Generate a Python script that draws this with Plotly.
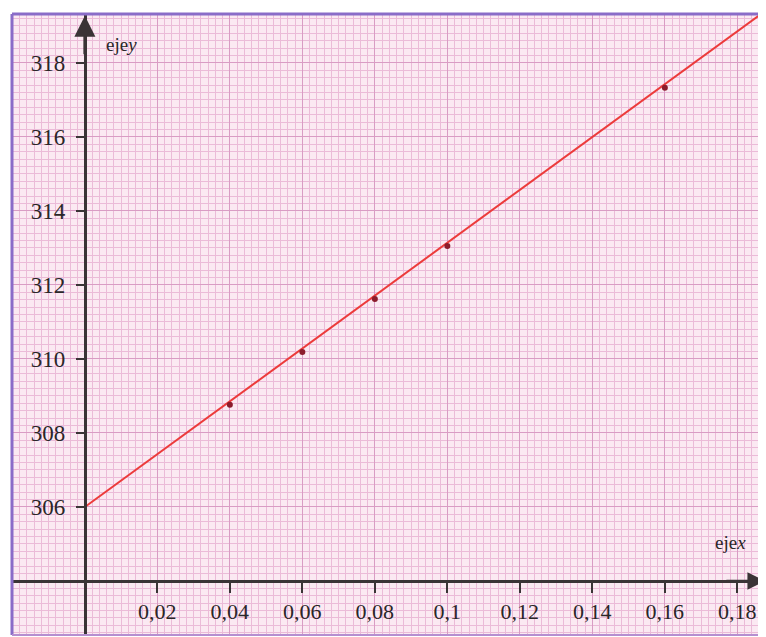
import plotly.graph_objects as go

# data
x_vals = [0.04, 0.06, 0.08, 0.1, 0.16]
y_vals = [308.76, 310.19, 311.62, 313.05, 317.33]
fit_intercept = 306.0
fit_slope = 71.4
x_ticks = [0.02, 0.04, 0.06, 0.08, 0.1, 0.12, 0.14, 0.16, 0.18]
x_tick_labels = ["0,02", "0,04", "0,06", "0,08", "0,1", "0,12", "0,14", "0,16", "0,18"]
y_ticks = [306, 308, 310, 312, 314, 316, 318]
y_tick_labels = ["306", "308", "310", "312", "314", "316", "318"]

x_range = [-0.0201, 0.1879]
y_range = [302.54, 319.32]
x_axis_at = 304.0
y_axis_at = 0.0

fit_x = [0.0, x_range[1]]
fit_y = [fit_intercept + fit_slope * v for v in fit_x]

axis_col = "#3a3436"
text_col = "#2a2628"
font_fam = "Liberation Serif"

fig = go.Figure()
fig.add_trace(go.Scatter(x=fit_x, y=fit_y, mode="lines",
                         line=dict(color="#ec3b3b", width=2), hoverinfo="skip"))
fig.add_trace(go.Scatter(x=x_vals, y=y_vals, mode="markers",
                         marker=dict(color="#8c1c2c", size=6)))

xpos = (y_axis_at - x_range[0]) / (x_range[1] - x_range[0])
ypos = (x_axis_at - y_range[0]) / (y_range[1] - y_range[0])

# the page body has an 8px margin, so the figure is 8px smaller
fig.update_layout(
    width=758, height=629,
    margin=dict(l=4, r=0, t=6, b=2, autoexpand=False),
    paper_bgcolor="white",
    plot_bgcolor="#fbe9f2",
    showlegend=False,
    xaxis=dict(range=x_range, anchor="free", position=ypos, automargin=False,
               tickvals=x_ticks, ticktext=x_tick_labels, ticklabeloverflow="allow",
               showgrid=True, gridcolor="#d99cc4", gridwidth=1,
               minor=dict(dtick=0.002, tick0=0, showgrid=True, gridcolor="#ebbbd8", gridwidth=1),
               showline=True, linecolor=axis_col, linewidth=2.5,
               ticks="outside", ticklen=10, tickwidth=2, tickcolor=axis_col,
               tickfont=dict(family=font_fam, size=22, color=text_col),
               zeroline=False, fixedrange=True),
    yaxis=dict(range=y_range, anchor="free", position=xpos, automargin=False,
               tickvals=y_ticks, ticktext=y_tick_labels, ticklabeloverflow="allow",
               showgrid=True, gridcolor="#d99cc4", gridwidth=1,
               minor=dict(dtick=0.2, tick0=0, showgrid=True, gridcolor="#ebbbd8", gridwidth=1),
               showline=True, linecolor=axis_col, linewidth=3,
               ticks="outside", ticklen=8, tickwidth=2, tickcolor=axis_col,
               ticklabelstandoff=6,
               tickfont=dict(family=font_fam, size=23, color=text_col),
               zeroline=False, fixedrange=True),
)

# border (purple frame)
fig.add_shape(type="line", xref="paper", yref="paper", x0=0, x1=0, y0=0, y1=1,
              line=dict(color="#8a6cc8", width=3))
fig.add_shape(type="line", xref="paper", yref="paper", x0=0, x1=1, y0=1, y1=1,
              line=dict(color="#8a6cc8", width=3))
fig.add_shape(type="line", xref="paper", yref="paper", x0=0, x1=1, y0=0, y1=0,
              line=dict(color="#b58fd0", width=2))

# arrowheads
fig.add_annotation(x=y_axis_at, y=y_range[1] - 0.05, xref="x", yref="y",
                   ax=0, ay=40, showarrow=True, arrowhead=2, arrowsize=1.4,
                   arrowwidth=3, arrowcolor=axis_col, text="")
fig.add_annotation(x=x_range[1] - 0.0003, y=x_axis_at, xref="x", yref="y",
                   ax=-40, ay=0, showarrow=True, arrowhead=2, arrowsize=1.4,
                   arrowwidth=2.5, arrowcolor=axis_col, text="")

# axis names
fig.add_annotation(x=y_axis_at, y=y_range[1], xref="x", yref="y",
                   text="eje<i>y</i>", showarrow=False, xanchor="left", yanchor="top",
                   xshift=19, yshift=-18, font=dict(family=font_fam, size=19, color=text_col))
fig.add_annotation(x=x_range[1], y=x_axis_at, xref="x", yref="y",
                   text="eje<i>x</i>", showarrow=False, xanchor="right", yanchor="bottom",
                   xshift=-18, yshift=26, font=dict(family=font_fam, size=19, color=text_col))

fig.write_html("out.html")
